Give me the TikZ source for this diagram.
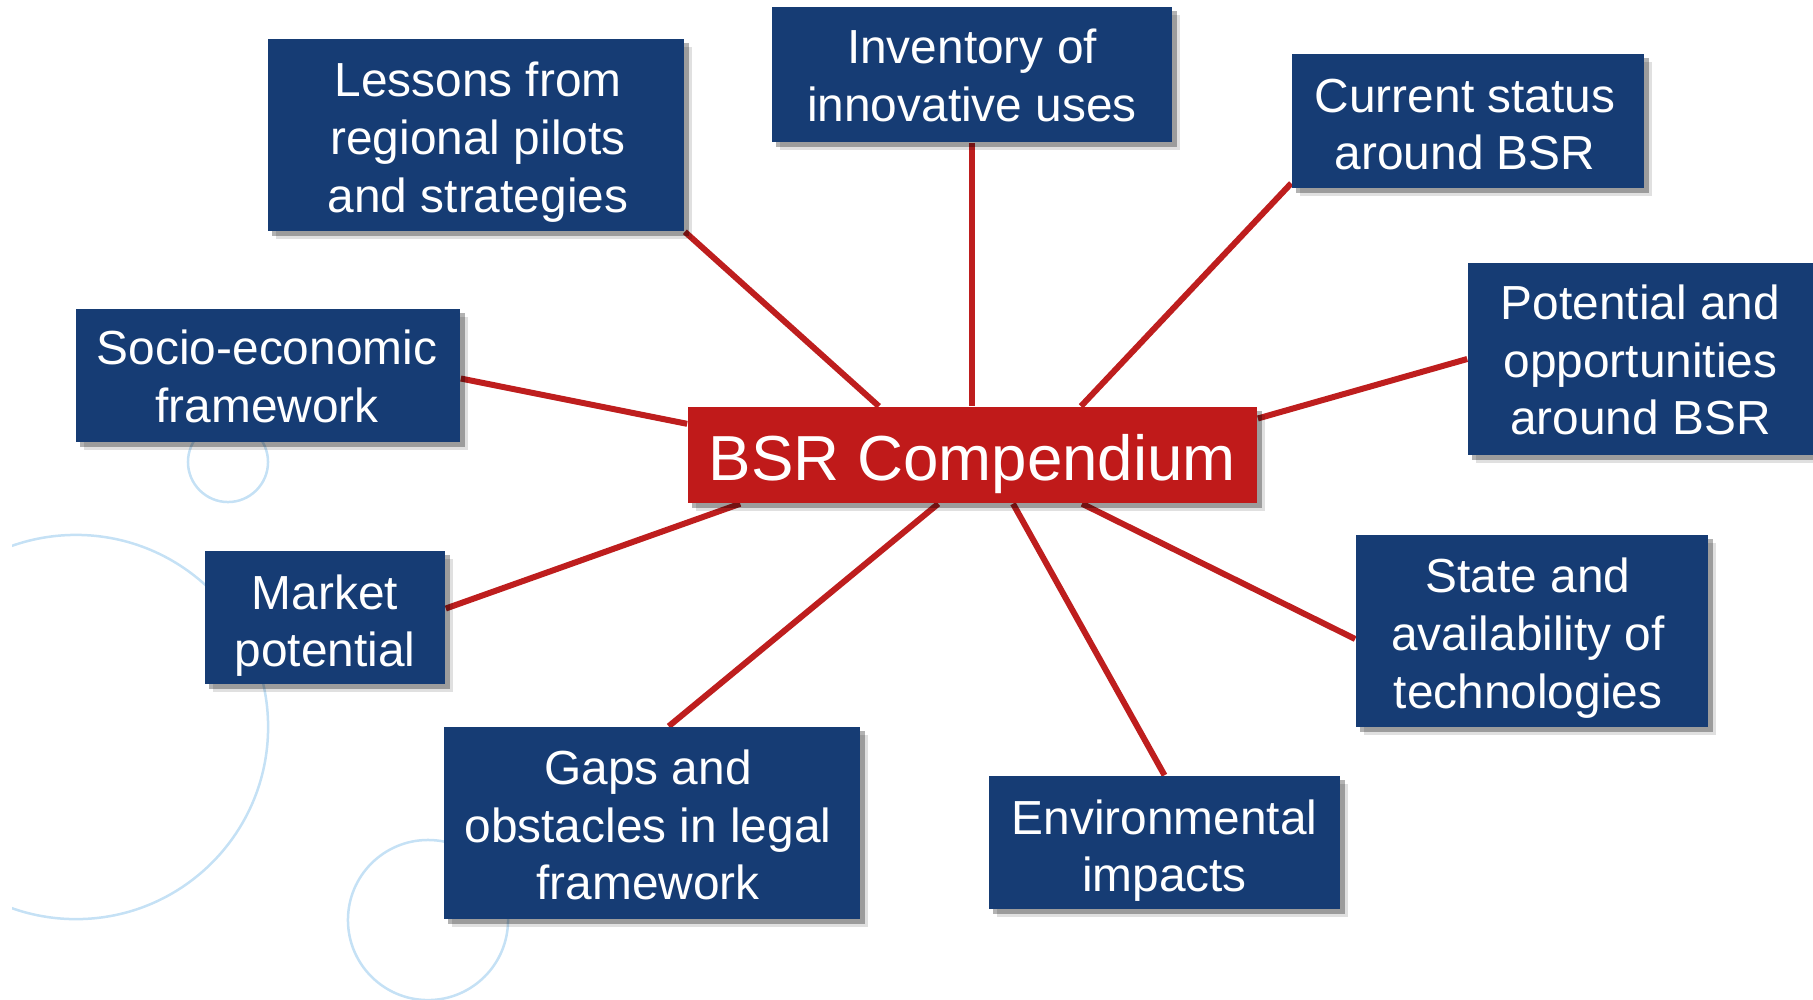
\documentclass[tikz,border=0pt]{standalone}
\usepackage{fontspec}
\setmainfont{Liberation Sans}
\usetikzlibrary{calc,shadows}
\definecolor{boxblue}{RGB}{22,60,116}
\definecolor{boxred}{RGB}{192,26,26}
\definecolor{linered}{RGB}{190,30,30}
\definecolor{ringblue}{RGB}{197,225,245}
\pgfdeclarelayer{bg}
\pgfdeclarelayer{lines}
\pgfsetlayers{bg,lines,main}
\tikzset{
  boxshadow/.style={
    drop shadow={shadow xshift=0.08cm, shadow yshift=-0.08cm, fill=black, opacity=0.12},
    drop shadow={shadow xshift=0.045cm, shadow yshift=-0.045cm, fill=black, opacity=0.3}},
  topic/.style={boxshadow, fill=boxblue, inner sep=0pt},
  hub/.style={boxshadow, fill=boxred, inner sep=0pt},
  topictext/.style={text=white, align=center, inner sep=0pt,
    font=\fontsize{13.6}{16.4}\selectfont},
  hubtext/.style={text=white, align=center, inner sep=0pt,
    font=\fontsize{18.1}{21.7}\selectfont},
  link/.style={draw=linered, line width=0.06cm},
  ring/.style={draw=ringblue, line width=0.025cm}
}
\begin{document}
\begin{tikzpicture}[x=0.01cm,y=-0.01cm]
\useasboundingbox (0,0) rectangle (1813,999);
% background rings
\begin{pgfonlayer}{bg}
  \begin{scope}
    \clip (12,0) rectangle (1813,999);
    \draw[ring] (228,462) circle [radius=0.40cm];
    \draw[ring] (76,727) circle [radius=1.92cm];
    \draw[ring] (428,920) circle [radius=0.80cm];
  \end{scope}
\end{pgfonlayer}
% boxes
\node[hub, minimum width=5.69cm, minimum height=0.96cm] (c) at (972.5,455) {};
\node[topic, minimum width=4.16cm, minimum height=1.92cm] (lessons) at (476,135) {};
\node[topic, minimum width=4.00cm, minimum height=1.35cm] (inv) at (972,74.5) {};
\node[topic, minimum width=3.52cm, minimum height=1.34cm] (cur) at (1468,121) {};
\node[topic, minimum width=3.45cm, minimum height=1.92cm] (pot) at (1640.5,359) {};
\node[topic, minimum width=3.84cm, minimum height=1.33cm] (socio) at (268,375.5) {};
\node[topic, minimum width=2.40cm, minimum height=1.33cm] (market) at (325,617.5) {};
\node[topic, minimum width=4.16cm, minimum height=1.92cm] (gaps) at (652,823) {};
\node[topic, minimum width=3.51cm, minimum height=1.33cm] (env) at (1164.5,842.5) {};
\node[topic, minimum width=3.52cm, minimum height=1.92cm] (state) at (1532,631) {};
% texts
\node[hubtext] (cT) at ($(c)+(0,9)$) {BSR Compendium};
\node[topictext] (lessonsT) at ($(lessons)+(2,7)$) {Lessons from\\regional pilots\\and strategies};
\node[topictext] (invT) at ($(inv)+(0,1)$) {Inventory of\\innovative uses};
\node[topictext] (curT) at ($(cur)+(-3,3.5)$) {Current status\\around BSR};
\node[topictext] (potT) at ($(pot)+(0,1)$) {Potential and\\opportunities\\around BSR};
\node[topictext] (socioT) at ($(socio)+(-1,1)$) {Socio-economic\\framework};
\node[topictext] (marketT) at ($(market)+(0,8)$) {Market\\potential};
\node[topictext] (gapsT) at ($(gaps)+(-4,2)$) {Gaps and\\obstacles in legal\\framework};
\node[topictext] (envT) at ($(env)+(0,8)$) {Environmental\\impacts};
\node[topictext] (stateT) at ($(state)+(-4,7)$) {State and\\availability of\\technologies};
% connectors
\begin{pgfonlayer}{lines}
  \draw[link] (lessons.south east) -- ($(c.north west)!0.336!(c.north east)$);
  \draw[link] (inv.south) -- (inv.south |- c.north);
  \draw[link] ($(cur.south west)!0.04!(cur.north west)$) -- ($(c.north west)!0.69!(c.north east)$);
  \draw[link] (pot.west) -- ($(c.north east)!0.125!(c.south east)$);
  \draw[link] ($(socio.east)+(0,3)$) -- ($(c.north west)!0.18!(c.south west)$);
  \draw[link] ($(market.east)+(0,-9)$) -- ($(c.south west)!0.093!(c.south east)$);
  \draw[link] ($(gaps.north west)!0.54!(gaps.north east)$) -- ($(c.south west)!0.44!(c.south east)$);
  \draw[link] (env.north) -- ($(c.south west)!0.571!(c.south east)$);
  \draw[link] ($(state.west)+(0,8)$) -- ($(c.south west)!0.692!(c.south east)$);
\end{pgfonlayer}
\end{tikzpicture}
\end{document}
